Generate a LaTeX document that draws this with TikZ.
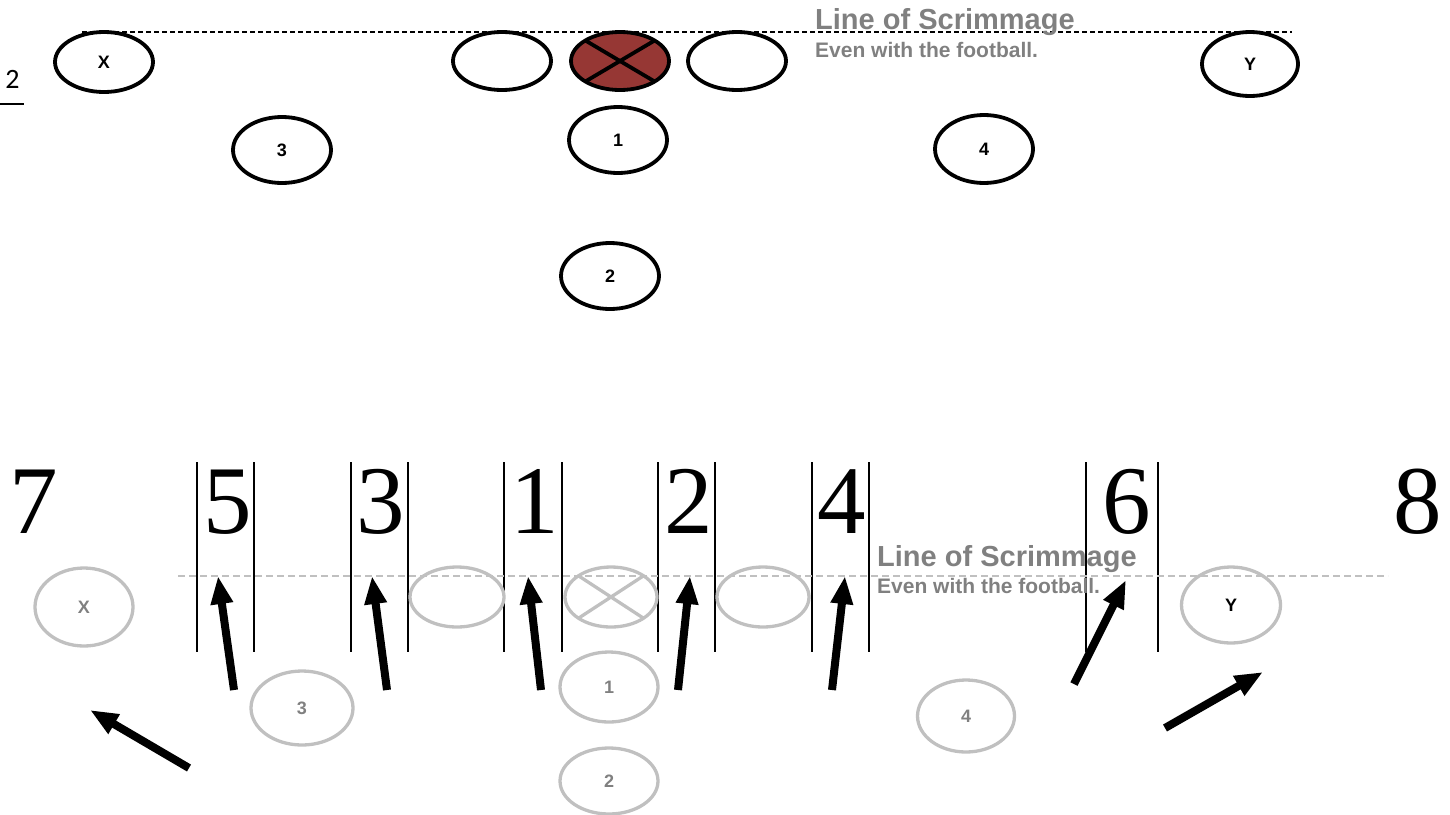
\documentclass[tikz,border=0pt]{standalone}
\usepackage{fontspec}
\setmainfont{Liberation Sans}
\newfontfamily\timesface{Liberation Serif}
\newfontfamily\calibface{Carlito}
\usetikzlibrary{shapes.geometric,arrows.meta}
\definecolor{ballred}{RGB}{150,55,52}
\definecolor{ghost}{RGB}{192,192,192}
\definecolor{labelgray}{RGB}{128,128,128}

\begin{document}
\begin{tikzpicture}[x=1pt,y=-1pt,
  player/.style={ellipse, draw=black, line width=3.8pt, minimum width=98pt,
    minimum height=64pt, inner sep=0pt, outer sep=0pt,
    font=\fontsize{18}{18}\selectfont\bfseries},
  shadow/.style={player, draw=ghost, line width=3.3pt, text=labelgray},
  gapnum/.style={font=\timesface\fontsize{97}{97}\selectfont, inner sep=0pt, anchor=base},
  gapline/.style={line width=1.6pt},
  move/.style={line width=8pt, -{Triangle[length=28pt,width=21pt]}},
  scrim/.style={text=labelgray, inner sep=0pt, anchor=base west},
]
\useasboundingbox (0,0) rectangle (1450,814);

% ---------------- formation ----------------
\coordinate (losL) at (82,32);
\coordinate (losR) at (1292,32);
\draw[line width=1.3pt, dash pattern=on 5pt off 3pt] (losL) -- (losR);

\node[scrim, font=\fontsize{29}{29}\selectfont\bfseries] (los1) at (815,29) {Line of Scrimmage};
\node[scrim, font=\fontsize{21}{21}\selectfont\bfseries] (los2) at (815,57) {Even with the football.};

\node[font=\calibface\fontsize{28}{28}\selectfont, inner sep=0pt, anchor=base] (pg) at (12.5,88) {2};
\coordinate (ulL) at (0,104);
\coordinate (ulR) at (24,104);
\draw[line width=1.5pt] (ulL) -- (ulR);

\node[player, minimum height=60pt] (X) at (104,62) {X};
\node[player, minimum height=58pt] (lg) at (502,61) {};
\node[player, minimum height=58pt, fill=ballred] (ball) at (620,61) {};
\draw[line width=3.8pt] (ball.north west) -- (ball.south east);
\draw[line width=3.8pt] (ball.north east) -- (ball.south west);
\node[player, minimum height=58pt] (rg) at (737,61) {};
\node[player, minimum width=96pt] (Y) at (1250,64) {Y};
\node[player, minimum height=66pt] (b3) at (282,150) {3};
\node[player, minimum height=66pt] (b1) at (618,140) {1};
\node[player, minimum height=68pt] (b4) at (984,149) {4};
\node[player, minimum height=66pt] (b2) at (610,276) {2};

% ---------------- hole numbering ----------------
\node[gapnum] (g7) at (34,533) {7};
\node[gapnum] (g5) at (228,533) {5};
\node[gapnum] (g3) at (381,533) {3};
\node[gapnum] (g1) at (535,533) {1};
\node[gapnum] (g2) at (689,533) {2};
\node[gapnum] (g4) at (842,533) {4};
\node[gapnum] (g6) at (1127,533) {6};
\node[gapnum] (g8) at (1418,533) {8};

\foreach \bx in {197,254,351,408,504,562,658,715,812,869,1086,1158}
  \draw[gapline] (\bx,462) -- (\bx,652);

\coordinate (los3L) at (178,576);
\coordinate (los3R) at (1388,576);
\draw[ghost, line width=1.5pt, dash pattern=on 7pt off 4pt] (los3L) -- (los3R);

\node[scrim, font=\fontsize{29}{29}\selectfont\bfseries] (los3) at (877,566) {Line of Scrimmage};
\node[scrim, font=\fontsize{21}{21}\selectfont\bfseries] (los4) at (877,593) {Even with the football.};

\node[shadow, minimum height=78pt] (sX) at (84,607) {X};
\node[shadow, minimum width=94pt, minimum height=60pt] (slg) at (457,597) {};
\node[shadow, minimum width=92pt, minimum height=60pt] (sball) at (611,597) {};
\draw[ghost, line width=3.3pt] (sball.north west) -- (sball.south east);
\draw[ghost, line width=3.3pt] (sball.north east) -- (sball.south west);
\node[shadow, minimum width=92pt, minimum height=60pt] (srg) at (763,597) {};
\node[shadow, minimum width=99pt, minimum height=76pt, text=black] (sY) at (1231,605) {Y};
\node[shadow, minimum width=102pt, minimum height=74pt] (s3) at (302,708) {3};
\node[shadow, minimum height=70pt] (s1) at (609,687) {1};
\node[shadow, minimum width=97pt, minimum height=72pt] (s4) at (966,716) {4};
\node[shadow, minimum height=66pt] (s2) at (609,781) {2};

% ---------------- blocking / running arrows ----------------
\coordinate (t5) at (234,690);  \coordinate (h5) at (218,576);
\coordinate (t3) at (387,690);  \coordinate (h3) at (372,576);
\coordinate (t1) at (541,690);  \coordinate (h1) at (528,576);
\coordinate (t2) at (678,690);  \coordinate (h2) at (690,576);
\coordinate (t4) at (832,690);  \coordinate (h4) at (845,576);
\coordinate (t6) at (1074,684); \coordinate (h6) at (1126,580);
\coordinate (tY) at (1165,728); \coordinate (hY) at (1263,672);
\coordinate (tX) at (189,768);  \coordinate (hX) at (90,710);

\foreach \a in {5,3,1,2,4,6,Y,X}
  \draw[move] (t\a) -- (h\a);

\end{tikzpicture}
\end{document}
